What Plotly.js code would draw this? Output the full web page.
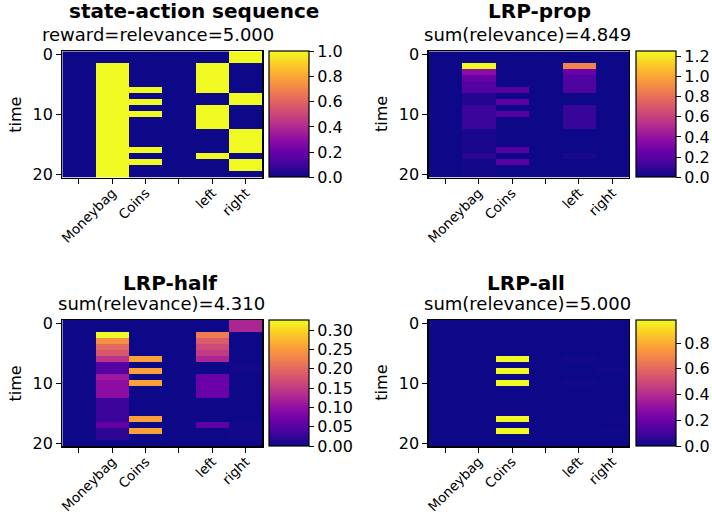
<!DOCTYPE html>
<html>
<head>
<meta charset="utf-8">
<script src="https://cdn.plot.ly/plotly-3.0.1.min.js"></script>
<style>html,body{margin:0;padding:0;background:#fff;}#chart{width:712px;height:514px;}</style>
</head>
<body>
<div id="chart"></div>
<script>
// ---- data ----
const columnLabels = ['', 'Moneybag', 'Coins', '', 'left', 'right'];
const timeSteps = Array.from({length: 21}, (_, i) => i);

// state-action sequence (rows = time 0..20, cols = columnLabels)
const stateAction = [
  [0,0,0,0,0,1],
  [0,0,0,0,0,1],
  [0,1,0,0,1,0],
  [0,1,0,0,1,0],
  [0,1,0,0,1,0],
  [0,1,0,0,1,0],
  [0,1,1,0,1,0],
  [0,1,0,0,0,1],
  [0,1,1,0,0,1],
  [0,1,0,0,1,0],
  [0,1,1,0,1,0],
  [0,1,0,0,1,0],
  [0,1,0,0,1,0],
  [0,1,0,0,0,1],
  [0,1,0,0,0,1],
  [0,1,0,0,0,1],
  [0,1,1,0,0,1],
  [0,1,0,0,1,0],
  [0,1,1,0,0,1],
  [0,1,0,0,0,1],
  [0,1,0,0,0,0]
];

const lrpProp = [
  [0,0,0,0,0,0],
  [0,0,0,0,0,0],
  [0,1.25,0,0,0.87,0],
  [0,0.37,0,0,0.25,0],
  [0,0.24,0,0,0.17,0],
  [0,0.19,0,0,0.16,0],
  [0,0.17,0.19,0,0.16,0],
  [0,0.05,0,0,0,0],
  [0,0.05,0.21,0,0,0],
  [0,0.11,0,0,0.1,0],
  [0,0.11,0.19,0,0.1,0],
  [0,0.11,0,0,0.1,0],
  [0,0.11,0,0,0.1,0],
  [0,0.03,0,0,0,0],
  [0,0.03,0,0,0,0],
  [0,0.03,0,0,0,0],
  [0,0.03,0.19,0,0,0],
  [0,0.07,0,0,0.03,0],
  [0,0.015,0.2,0,0,0],
  [0,0.015,0,0,0,0],
  [0,0.015,0,0,0,0]
];

const lrpHalf = [
  [0,0,0,0,0,0.125],
  [0,0,0,0,0,0.125],
  [0,0.326,0,0,0.22,0],
  [0,0.24,0,0,0.185,0],
  [0,0.2,0,0,0.165,0],
  [0,0.18,0,0,0.15,0],
  [0,0.14,0.255,0,0.125,0],
  [0,0.05,0,0,0,0.004],
  [0,0.05,0.255,0,0,0.004],
  [0,0.11,0,0,0.065,0],
  [0,0.095,0.255,0,0.065,0],
  [0,0.095,0,0,0.065,0],
  [0,0.095,0,0,0.065,0],
  [0,0.03,0,0,0,0],
  [0,0.03,0,0,0,0],
  [0,0.03,0,0,0,0],
  [0,0.03,0.255,0,0,0],
  [0,0.06,0,0,0.055,0.004],
  [0,0.02,0.255,0,0,0.004],
  [0,0.02,0,0,0,0.004],
  [0,0,0,0,0,0]
];

const lrpAll = [
  [0,0,0,0,0,0],
  [0,0,0,0,0,0],
  [0,0,0,0,0,0],
  [0,0,0,0,0,0],
  [0,0,0,0,0,0],
  [0,0,0,0,0,0],
  [0,0,0.98,0,0.01,0],
  [0,0,0,0,0,0],
  [0,0,0.98,0,0,0.01],
  [0,0,0,0,0,0],
  [0,0,0.98,0,0.01,0],
  [0,0,0,0,0,0],
  [0,0,0,0,0,0],
  [0,0,0,0,0,0],
  [0,0,0,0,0,0],
  [0,0,0,0,0,0],
  [0,0,0.98,0,0,0.008],
  [0,0,0,0,0,0],
  [0,0,0.98,0,0,0.008],
  [0,0,0,0,0,0],
  [0,0,0,0,0,0]
];

const panelTitles = ['state-action sequence', 'LRP-prop', 'LRP-half', 'LRP-all'];
const panelSubtitles = ['reward=relevance=5.000', 'sum(relevance)=4.849', 'sum(relevance)=4.310', 'sum(relevance)=5.000'];
const cbTicks = [
  [0, 0.2, 0.4, 0.6, 0.8, 1.0],
  [0, 0.2, 0.4, 0.6, 0.8, 1.0, 1.2],
  [0, 0.05, 0.10, 0.15, 0.20, 0.25, 0.30],
  [0, 0.2, 0.4, 0.6, 0.8]
];
const cbFormats = ['.1f', '.1f', '.2f', '.1f'];

// ---- styling / layout ----
const W = 712, H = 514;
const FONT = 'DejaVu Sans, Liberation Sans, sans-serif';
const plasma = [
  [0.0, '#0d0887'], [0.1, '#41049d'], [0.2, '#6a00a8'], [0.3, '#8f0da4'],
  [0.4, '#b12a90'], [0.5, '#cc4778'], [0.6, '#e16462'], [0.7, '#f2844b'],
  [0.8, '#fca636'], [0.9, '#fcce25'], [1.0, '#f0f921']
];

// pixel boxes for heatmaps
const boxes = [
  {x0: 62.3, x1: 262.3, y0: 51.3, y1: 177.7},
  {x0: 428.5, x1: 629, y0: 51.3, y1: 177.7},
  {x0: 62.3, x1: 262.3, y0: 320, y1: 446.3},
  {x0: 428.5, x1: 629, y0: 320, y1: 446.3}
];
const titlePos = [
  {tx: 194, ty: 11, sx: 158, sy: 34.5},
  {tx: 539.5, ty: 11, sx: 527.5, sy: 34.5},
  {tx: 170, ty: 282.5, sx: 161, sy: 303},
  {tx: 526, ty: 282.5, sx: 527.5, sy: 303}
];

const datasets = [stateAction, lrpProp, lrpHalf, lrpAll];
const traces = [];
const layout = {
  width: W, height: H,
  margin: {l: 0, r: 0, t: 0, b: 0},
  paper_bgcolor: '#fff', plot_bgcolor: '#fff',
  font: {family: FONT, color: '#000', size: 16},
  showlegend: false,
  annotations: []
};

datasets.forEach((z, i) => {
  const b = boxes[i];
  const ax = i === 0 ? '' : String(i + 1);
  traces.push({
    type: 'heatmap',
    z: z,
    x: columnLabels.map((_, k) => k),
    y: timeSteps,
    xaxis: 'x' + ax,
    yaxis: 'y' + ax,
    colorscale: plasma,
    zmin: 0,
    xgap: 0, ygap: 0,
    hoverinfo: 'z',
    colorbar: {
      x: (b.x1 + 6.5) / W, xanchor: 'left', xpad: 0,
      y: 1 - b.y0 / H, yanchor: 'top', ypad: 0,
      len: b.y1 - b.y0, lenmode: 'pixels',
      thickness: 40, thicknessmode: 'pixels',
      outlinewidth: 1.2, outlinecolor: '#000',
      ticks: 'outside', ticklen: 5, tickwidth: 1, tickcolor: '#000',
      tickvals: cbTicks[i], tickformat: cbFormats[i],
      tickfont: {family: FONT, size: 16, color: '#000'}
    }
  });
  layout['xaxis' + ax] = {
    domain: [b.x0 / W, b.x1 / W],
    anchor: 'y' + ax,
    range: [-0.5, 5.5],
    tickmode: 'array',
    tickvals: columnLabels.map((_, k) => k),
    ticktext: columnLabels,
    tickangle: -45,
    ticklabelstandoff: -4,
    ticks: 'outside', ticklen: 5, tickwidth: 1, tickcolor: '#000',
    tickfont: {family: FONT, size: 13.5, color: '#000'},
    showline: true, linecolor: '#000', linewidth: 1.2, mirror: true,
    showgrid: false, zeroline: false, fixedrange: true
  };
  layout['yaxis' + ax] = {
    domain: [1 - b.y1 / H, 1 - b.y0 / H],
    anchor: 'x' + ax,
    range: [20.5, -0.5],
    tickmode: 'array',
    tickvals: [0, 10, 20],
    ticks: 'outside', ticklen: 5, tickwidth: 1, tickcolor: '#000',
    tickfont: {family: FONT, size: 16, color: '#000'},
    showline: true, linecolor: '#000', linewidth: 1.2, mirror: true,
    showgrid: false, zeroline: false, fixedrange: true
  };
  const tp = titlePos[i];
  layout.annotations.push({
    text: '<b>' + panelTitles[i] + '</b>', xref: 'paper', yref: 'paper',
    x: tp.tx / W, y: 1 - tp.ty / H, xanchor: 'center', yanchor: 'middle',
    showarrow: false, font: {family: FONT, size: 20, color: '#000'}
  });
  layout.annotations.push({
    text: panelSubtitles[i], xref: 'paper', yref: 'paper',
    x: tp.sx / W, y: 1 - tp.sy / H, xanchor: 'center', yanchor: 'middle',
    showarrow: false, font: {family: FONT, size: 18, color: '#000'}
  });
  layout.annotations.push({
    text: 'time', xref: 'paper', yref: 'paper',
    x: (b.x0 - 47) / W, y: 1 - ((b.y0 + b.y1) / 2) / H,
    xanchor: 'center', yanchor: 'middle', textangle: -90,
    showarrow: false, font: {family: FONT, size: 16, color: '#000'}
  });
});

Plotly.newPlot('chart', traces, layout, {staticPlot: true, displayModeBar: false});
</script>
</body>
</html>
